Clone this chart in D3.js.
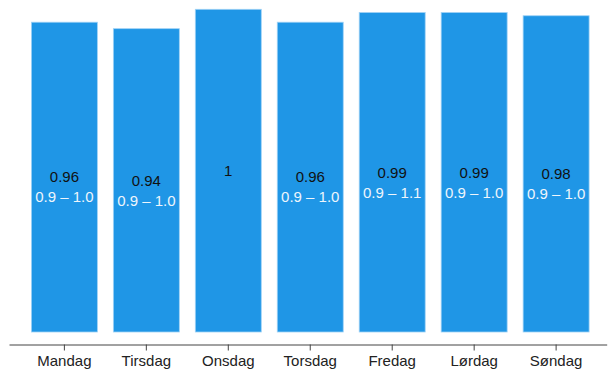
<!DOCTYPE html>
<html>
<head>
<meta charset="utf-8">
<script src="https://cdn.jsdelivr.net/npm/d3@7"></script>
<style>
  html, body { margin: 0; padding: 0; background: #fff; }
  svg { display: block; font-family: "Liberation Sans", Arial, Helvetica, sans-serif; }
</style>
</head>
<body>
<svg id="chart" width="615" height="374"></svg>
<script>
// Weekday estimates with their intervals
const days = ["Mandag", "Tirsdag", "Onsdag", "Torsdag", "Fredag", "Lørdag", "Søndag"];
const values = [0.96, 0.94, 1, 0.96, 0.99, 0.99, 0.98];
const valueLabels = ["0.96", "0.94", "1", "0.96", "0.99", "0.99", "0.98"];
const rangeLabels = ["0.9 – 1.0", "0.9 – 1.0", "", "0.9 – 1.0", "0.9 – 1.1", "0.9 – 1.0", "0.9 – 1.0"];

const svg = d3.select("#chart");
const baseY = 332;

const x = d3.scaleBand()
  .domain(days)
  .range([9, 606.7])
  .paddingInner(0.195)
  .paddingOuter(0.244)
  .align(0.56);

const y = d3.scaleLinear()
  .domain([0, 1])
  .range([baseY, 9.3]);

const rows = days.map((d, i) => ({
  day: d, value: values[i], label: valueLabels[i], range: rangeLabels[i]
}));

// Bars
svg.append("g")
  .selectAll("rect")
  .data(rows)
  .join("rect")
  .attr("x", d => x(d.day))
  .attr("y", d => y(d.value))
  .attr("width", x.bandwidth())
  .attr("height", d => y(0) - y(d.value))
  .attr("fill", "#1f96e6")
  .attr("stroke", "#9fd2f6")
  .attr("stroke-width", 0.8);

// Value and interval labels at bar middle
const labels = svg.append("g")
  .selectAll("g")
  .data(rows)
  .join("g")
  .attr("transform", d => `translate(${x(d.day) + x.bandwidth() / 2},${(y(d.value) + y(0)) / 2})`);

labels.append("text")
  .attr("text-anchor", "middle")
  .attr("dy", "0.35em")
  .attr("font-size", 15)
  .attr("fill", "#111")
  .text(d => d.label);

labels.append("text")
  .attr("text-anchor", "middle")
  .attr("y", 20)
  .attr("dy", "0.35em")
  .attr("font-size", 15)
  .attr("fill", "#eef5fc")
  .text(d => d.range);

// Category axis
const axis = svg.append("g")
  .attr("transform", "translate(0,344.5)")
  .call(d3.axisBottom(x).tickSize(6).tickSizeOuter(0).tickPadding(5));

axis.select(".domain").attr("stroke", "#444").attr("stroke-width", 1);
axis.selectAll(".tick line").attr("stroke", "#444");
axis.selectAll(".tick text")
  .attr("font-size", 15)
  .attr("font-family", "Liberation Sans, Arial, sans-serif")
  .attr("fill", "#222");
</script>
</body>
</html>
